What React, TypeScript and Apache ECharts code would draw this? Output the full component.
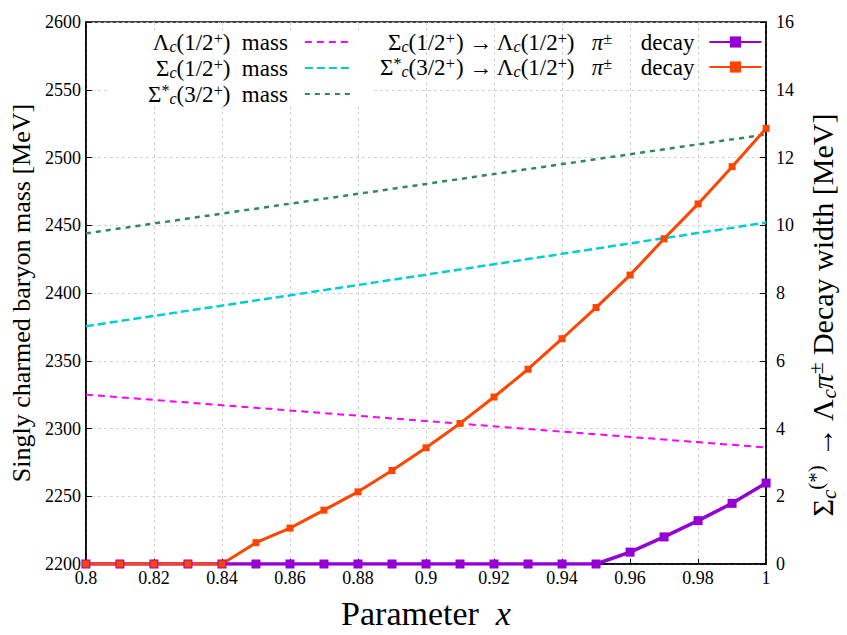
import React, { useEffect, useRef } from "react";
import * as echarts from "echarts";

// ---- data ----
const massX = [0.8, 0.9, 1.0];
const lambdaMass = [2325, 2305.5, 2286];
const sigmaMass = [2375.5, 2413.5, 2452];
const sigmaStarMass = [2444, 2480.5, 2517];

const decayX = [0.8, 0.81, 0.82, 0.83, 0.84, 0.85, 0.86, 0.87, 0.88, 0.89, 0.9, 0.91, 0.92, 0.93, 0.94, 0.95, 0.96, 0.97, 0.98, 0.99, 1.0];
const sigmaDecay = [0, 0, 0, 0, 0, 0, 0, 0, 0, 0, 0, 0, 0, 0, 0, 0, 0.35, 0.8, 1.28, 1.79, 2.39];
const sigmaStarDecay = [0, 0, 0, 0, 0, 0.63, 1.06, 1.59, 2.13, 2.76, 3.43, 4.15, 4.93, 5.75, 6.65, 7.57, 8.53, 9.6, 10.63, 11.73, 12.86];

const names = {
  lam: "Λc(1/2+) mass",
  sig: "Σc(1/2+) mass",
  sigs: "Σc*(3/2+) mass",
  d1: "Σc(1/2+) → Λc(1/2+) π± decay",
  d2: "Σc*(3/2+) → Λc(1/2+) π± decay",
};

const richLabels: Record<string, string> = {
  [names.lam]: "{n|Λ}{sub|c}{n|(1/2}{sup|+}{n|)  }{m|mass}",
  [names.sig]: "{n|Σ}{sub|c}{n|(1/2}{sup|+}{n|)  }{m|mass}",
  [names.sigs]: "{n|Σ}{sup|*}{sub|c}{n|(3/2}{sup|+}{n|)  }{m|mass}",
  [names.d1]: "{n|Σ}{sub|c}{n|(1/2}{sup|+}{n|) → Λ}{sub|c}{n|(1/2}{sup|+}{n|)   }{it|π}{sup|±}{n|     }{d|decay}",
  [names.d2]: "{n|Σ}{sup|*}{sub|c}{n|(3/2}{sup|+}{n|) → Λ}{sub|c}{n|(1/2}{sup|+}{n|)   }{it|π}{sup|±}{n|     }{d|decay}",
};

const SERIF = "Liberation Serif";

echarts.registerTheme("paperSerif", { textStyle: { fontFamily: SERIF } });

const rich = (size: number, lh: number) => ({
  n: { fontSize: size, fontFamily: SERIF, color: "#000", lineHeight: lh },
  m: { fontSize: size, fontFamily: SERIF, color: "#000", lineHeight: lh, padding: [0, 12, 0, 0] },
  d: { fontSize: size, fontFamily: SERIF, color: "#000", lineHeight: lh, padding: [0, 10, 0, 0] },
  it: { fontSize: size, fontFamily: SERIF, fontStyle: "italic", color: "#000", lineHeight: lh },
  sub: { fontSize: size * 0.7, fontFamily: SERIF, fontStyle: "italic", color: "#000", lineHeight: size * 0.7, verticalAlign: "bottom" },
  sup: { fontSize: size * 0.7, fontFamily: SERIF, color: "#000", lineHeight: size * 0.7, verticalAlign: "top" },
});

const pairs = (xs: number[], ys: number[]) => xs.map((x, i) => [x, ys[i]]);

export default function App() {
  const ref = useRef<HTMLDivElement>(null);
  useEffect(() => {
    const chart = echarts.init(ref.current!, "paperSerif", { renderer: "svg" });
    const gridLine = { color: "#c8c8c8", type: [3, 3], width: 0.8 };
    const option: any = {
      animation: false,
      backgroundColor: "#fff",
      grid: { left: 82, right: 75, top: 22, bottom: 59, show: true, borderColor: "#000", borderWidth: 1.5, backgroundColor: "transparent" },
      legend: [
        {
          data: [names.lam, names.sig, names.sigs],
          orient: "vertical",
          left: 110,
          top: 30,
          align: "right",
          padding: [0, 22, 0, 38],
          itemGap: 2,
          itemWidth: 45,
          itemHeight: 14,
          backgroundColor: "#fff",
          itemStyle: { opacity: 0 },
          formatter: (n: string) => richLabels[n],
          textStyle: { fontFamily: SERIF, rich: rich(23, 24) },
        },
        {
          data: [names.d1, names.d2],
          orient: "vertical",
          left: 380,
          top: 30,
          align: "right",
          padding: 0,
          itemGap: 1,
          itemWidth: 52,
          itemHeight: 14,
          formatter: (n: string) => richLabels[n],
          textStyle: { fontFamily: SERIF, rich: rich(23, 24) },
        },
      ],
      xAxis: {
        type: "value",
        min: 0.8,
        max: 1,
        interval: 0.02,
        name: "{n|Parameter  }{it|x}",
        nameLocation: "middle",
        nameGap: 32,
        nameTextStyle: { fontFamily: SERIF, rich: rich(34, 34) },
        axisLine: { lineStyle: { color: "#000", width: 1.5 } },
        axisTick: { inside: true, length: 5, lineStyle: { color: "#000" } },
        axisLabel: {
          margin: 5,
          color: "#000",
          fontFamily: SERIF,
          fontSize: 18,
          formatter: (v: number) => String(+v.toFixed(2)),
        },
        splitLine: { show: true, lineStyle: gridLine },
      },
      yAxis: [
        {
          type: "value",
          min: 2200,
          max: 2600,
          interval: 50,
          position: "left",
          name: "Singly charmed baryon mass [MeV]",
          nameLocation: "middle",
          nameGap: 50,
          nameTextStyle: { fontFamily: SERIF, fontSize: 26, color: "#000" },
          axisLine: { show: true, lineStyle: { color: "#000", width: 1.5 } },
          axisTick: { show: true, inside: true, length: 6, lineStyle: { color: "#000" } },
          axisLabel: { margin: 5, color: "#000", fontFamily: SERIF, fontSize: 18, formatter: (v: number) => String(v) },
          splitLine: { show: true, lineStyle: gridLine },
        },
        {
          type: "value",
          min: 0,
          max: 16,
          interval: 2,
          position: "right",
          name: "{n|Σ}{sub|c}{sup|(*)}{n| → Λ}{sub|c}{it|π}{sup|±}{n| Decay width [MeV]}",
          nameLocation: "middle",
          nameGap: 32,
          nameTextStyle: { fontFamily: SERIF, rich: rich(30, 34), padding: [0, 44, 0, 0] },
          axisLine: { show: true, lineStyle: { color: "#000", width: 1.5 } },
          axisTick: { show: true, inside: true, length: 6, lineStyle: { color: "#000" } },
          axisLabel: { margin: 10, color: "#000", fontFamily: SERIF, fontSize: 18, formatter: (v: number) => String(v) },
          splitLine: { show: false },
        },
      ],
      series: [
        {
          name: names.lam,
          type: "line",
          yAxisIndex: 0,
          data: pairs(massX, lambdaMass),
          symbol: "none",
          lineStyle: { color: "#ff00ff", width: 2, type: [7, 5] },
          itemStyle: { color: "#ff00ff" },
        },
        {
          name: names.sig,
          type: "line",
          yAxisIndex: 0,
          data: pairs(massX, sigmaMass),
          symbol: "none",
          lineStyle: { color: "#00ced1", width: 2.5, type: [8, 4] },
          itemStyle: { color: "#00ced1" },
        },
        {
          name: names.sigs,
          type: "line",
          yAxisIndex: 0,
          data: pairs(massX, sigmaStarMass),
          symbol: "none",
          lineStyle: { color: "#2e8b57", width: 2.5, type: [5, 5] },
          itemStyle: { color: "#2e8b57" },
        },
        {
          name: names.d1,
          type: "line",
          yAxisIndex: 1,
          data: pairs(decayX, sigmaDecay),
          symbol: "rect",
          symbolSize: 9,
          lineStyle: { color: "#9400d3", width: 3.5 },
          itemStyle: { color: "#9400d3" },
        },
        {
          name: names.d2,
          type: "line",
          yAxisIndex: 1,
          data: pairs(decayX, sigmaStarDecay),
          symbol: "rect",
          symbolSize: 7,
          lineStyle: { color: "#ff4500", width: 3 },
          itemStyle: { color: "#ff4500" },
        },
      ],
    };
    chart.setOption(option);
    return () => chart.dispose();
  }, []);
  return <div ref={ref} style={{ position: "fixed", left: 0, top: 0, width: 847, height: 635 }} />;
}
